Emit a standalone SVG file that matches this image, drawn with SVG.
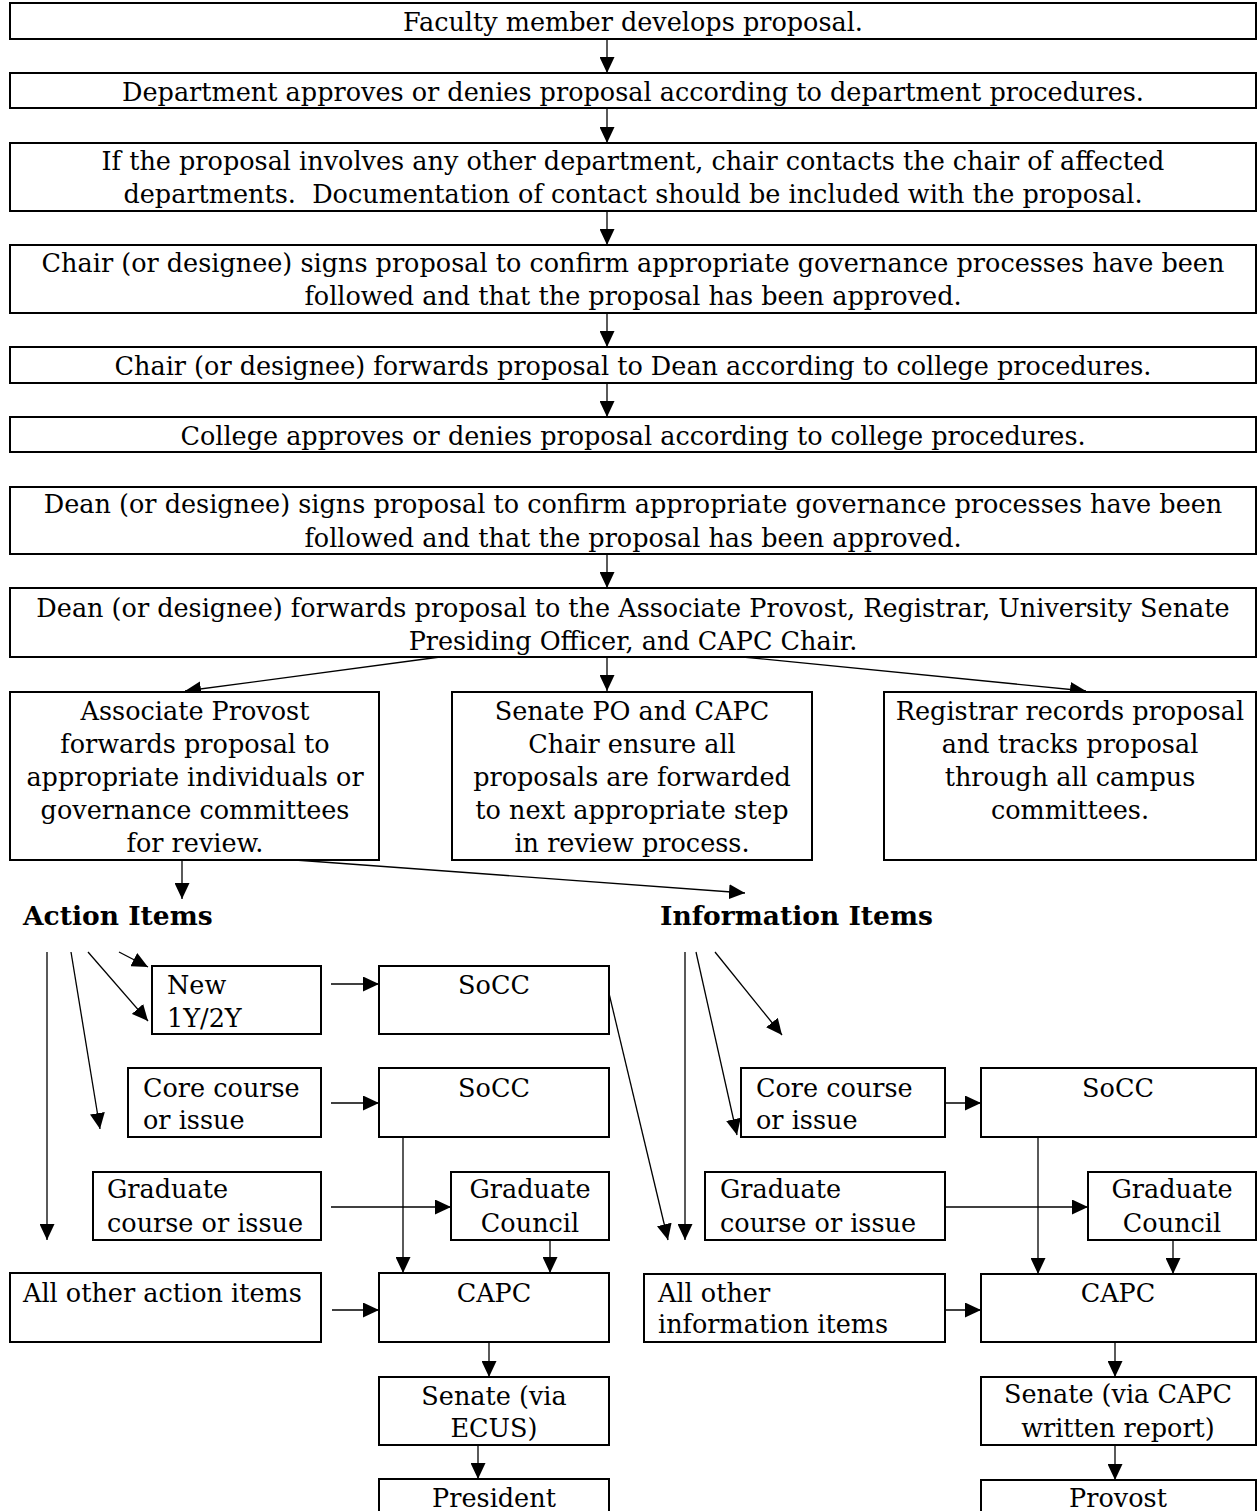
<svg xmlns="http://www.w3.org/2000/svg" width="1257" height="1511" viewBox="0 0 1257 1511">
<style>
.box{fill:#fff;stroke:#000;stroke-width:2}
text{font-family:"DejaVu Serif","Liberation Serif",serif;font-size:25.5px;fill:#000}
.c{text-anchor:middle}
.h{font-weight:bold;font-size:26.5px}
.ln{stroke:#000;stroke-width:1.3;fill:none}
.ar{marker-end:url(#ah)}
</style>
<defs>
<marker id="ah" markerUnits="userSpaceOnUse" markerWidth="16" markerHeight="15" refX="16" refY="7.5" orient="auto" viewBox="0 0 16 15">
<path d="M0,0 L16,7.5 L0,15 z" fill="#000"/>
</marker>
</defs>
<rect width="1257" height="1511" fill="#fff"/>
<g id="connectors">
<line class="ln ar" x1="607" y1="39" x2="607" y2="73"/>
<line class="ln ar" x1="607" y1="108" x2="607" y2="143"/>
<line class="ln ar" x1="607" y1="211" x2="607" y2="245"/>
<line class="ln ar" x1="607" y1="313" x2="607" y2="347"/>
<line class="ln ar" x1="607" y1="383" x2="607" y2="417"/>
<line class="ln ar" x1="607" y1="554" x2="607" y2="588"/>
<line class="ln ar" x1="440" y1="657" x2="185" y2="691"/>
<line class="ln ar" x1="607" y1="657" x2="607" y2="691"/>
<line class="ln ar" x1="743" y1="657" x2="1086" y2="691"/>
<line class="ln ar" x1="182" y1="860" x2="182" y2="899"/>
<line class="ln ar" x1="295" y1="860" x2="745" y2="893"/>
<line class="ln ar" x1="47" y1="952" x2="47" y2="1240"/>
<line class="ln ar" x1="71" y1="952" x2="100" y2="1129"/>
<line class="ln ar" x1="88" y1="952" x2="148" y2="1021"/>
<line class="ln ar" x1="119" y1="952" x2="148" y2="967"/>
<line class="ln ar" x1="331" y1="984" x2="379" y2="984"/>
<line class="ln ar" x1="607" y1="985" x2="668" y2="1240"/>
<line class="ln ar" x1="331" y1="1103" x2="379" y2="1103"/>
<line class="ln ar" x1="403" y1="1137" x2="403" y2="1273"/>
<line class="ln ar" x1="331" y1="1207" x2="451" y2="1207"/>
<line class="ln ar" x1="550" y1="1240" x2="550" y2="1273"/>
<line class="ln ar" x1="332" y1="1310" x2="379" y2="1310"/>
<line class="ln ar" x1="489" y1="1342" x2="489" y2="1377"/>
<line class="ln ar" x1="478" y1="1445" x2="478" y2="1479"/>
<line class="ln ar" x1="685" y1="952" x2="685" y2="1240"/>
<line class="ln ar" x1="696" y1="952" x2="737" y2="1135"/>
<line class="ln ar" x1="715" y1="952" x2="782" y2="1035"/>
<line class="ln ar" x1="945" y1="1103" x2="981" y2="1103"/>
<line class="ln ar" x1="1038" y1="1137" x2="1038" y2="1274"/>
<line class="ln ar" x1="945" y1="1207" x2="1088" y2="1207"/>
<line class="ln ar" x1="1173" y1="1240" x2="1173" y2="1274"/>
<line class="ln ar" x1="945" y1="1310" x2="981" y2="1310"/>
<line class="ln ar" x1="1115" y1="1342" x2="1115" y2="1377"/>
<line class="ln ar" x1="1115" y1="1445" x2="1115" y2="1480"/>
</g>
<g id="n1"><rect class="box" x="10" y="3" width="1246" height="36"/><text class="c" x="633" y="31">Faculty member develops proposal.</text></g>
<g id="n2"><rect class="box" x="10" y="73" width="1246" height="35"/><text class="c" x="633" y="101">Department approves or denies proposal according to department procedures.</text></g>
<g id="n3"><rect class="box" x="10" y="143" width="1246" height="68"/><text class="c" x="633" y="170">If the proposal involves any other department, chair contacts the chair of affected</text><text class="c" x="633" y="203" xml:space="preserve">departments.  Documentation of contact should be included with the proposal.</text></g>
<g id="n4"><rect class="box" x="10" y="245" width="1246" height="68"/><text class="c" x="633" y="272">Chair (or designee) signs proposal to confirm appropriate governance processes have been</text><text class="c" x="633" y="305">followed and that the proposal has been approved.</text></g>
<g id="n5"><rect class="box" x="10" y="347" width="1246" height="36"/><text class="c" x="633" y="375">Chair (or designee) forwards proposal to Dean according to college procedures.</text></g>
<g id="n6"><rect class="box" x="10" y="417" width="1246" height="35"/><text class="c" x="633" y="445">College approves or denies proposal according to college procedures.</text></g>
<g id="n7"><rect class="box" x="10" y="487" width="1246" height="67"/><text class="c" x="633" y="513">Dean (or designee) signs proposal to confirm appropriate governance processes have been</text><text class="c" x="633" y="547">followed and that the proposal has been approved.</text></g>
<g id="n8"><rect class="box" x="10" y="588" width="1246" height="69"/><text class="c" x="633" y="617">Dean (or designee) forwards proposal to the Associate Provost, Registrar, University Senate</text><text class="c" x="633" y="650">Presiding Officer, and CAPC Chair.</text></g>
<g id="n9"><rect class="box" x="10" y="692" width="369" height="168"/><text class="c" x="195" y="720">Associate Provost</text><text class="c" x="195" y="753">forwards proposal to</text><text class="c" x="195" y="786">appropriate individuals or</text><text class="c" x="195" y="819">governance committees</text><text class="c" x="195" y="852">for review.</text></g>
<g id="n10"><rect class="box" x="452" y="692" width="360" height="168"/><text class="c" x="632" y="720">Senate PO and CAPC</text><text class="c" x="632" y="753">Chair ensure all</text><text class="c" x="632" y="786">proposals are forwarded</text><text class="c" x="632" y="819">to next appropriate step</text><text class="c" x="632" y="852">in review process.</text></g>
<g id="n11"><rect class="box" x="884" y="692" width="372" height="168"/><text class="c" x="1070" y="720">Registrar records proposal</text><text class="c" x="1070" y="753">and tracks proposal</text><text class="c" x="1070" y="786">through all campus</text><text class="c" x="1070" y="819">committees.</text></g>
<g id="h1"><text class="h" x="23" y="925">Action Items</text></g>
<g id="h2"><text class="h" x="660" y="925">Information Items</text></g>
<g id="a1"><rect class="box" x="152" y="966" width="169" height="68"/><text x="167" y="994">New</text><text x="167" y="1027">1Y/2Y</text></g>
<g id="a2"><rect class="box" x="379" y="966" width="230" height="68"/><text class="c" x="494" y="994">SoCC</text></g>
<g id="a3"><rect class="box" x="128" y="1068" width="193" height="69"/><text x="143" y="1097">Core course</text><text x="143" y="1129">or issue</text></g>
<g id="a4"><rect class="box" x="379" y="1068" width="230" height="69"/><text class="c" x="494" y="1097">SoCC</text></g>
<g id="a5"><rect class="box" x="93" y="1172" width="228" height="68"/><text x="107" y="1198">Graduate</text><text x="107" y="1232">course or issue</text></g>
<g id="a6"><rect class="box" x="451" y="1172" width="158" height="68"/><text class="c" x="530" y="1198">Graduate</text><text class="c" x="530" y="1232">Council</text></g>
<g id="a7"><rect class="box" x="10" y="1273" width="311" height="69"/><text x="23" y="1302">All other action items</text></g>
<g id="a8"><rect class="box" x="379" y="1273" width="230" height="69"/><text class="c" x="494" y="1302">CAPC</text></g>
<g id="a9"><rect class="box" x="379" y="1377" width="230" height="68"/><text class="c" x="494" y="1405">Senate (via</text><text class="c" x="494" y="1437">ECUS)</text></g>
<g id="a10"><rect class="box" x="379" y="1479" width="230" height="69"/><text class="c" x="494" y="1507">President</text></g>
<g id="i1"><rect class="box" x="741" y="1068" width="204" height="69"/><text x="756" y="1097">Core course</text><text x="756" y="1129">or issue</text></g>
<g id="i2"><rect class="box" x="981" y="1068" width="275" height="69"/><text class="c" x="1118" y="1097">SoCC</text></g>
<g id="i3"><rect class="box" x="705" y="1172" width="240" height="68"/><text x="720" y="1198">Graduate</text><text x="720" y="1232">course or issue</text></g>
<g id="i4"><rect class="box" x="1088" y="1172" width="168" height="68"/><text class="c" x="1172" y="1198">Graduate</text><text class="c" x="1172" y="1232">Council</text></g>
<g id="i5"><rect class="box" x="644" y="1274" width="301" height="68"/><text x="658" y="1302">All other</text><text x="658" y="1333">information items</text></g>
<g id="i6"><rect class="box" x="981" y="1274" width="275" height="68"/><text class="c" x="1118" y="1302">CAPC</text></g>
<g id="i7"><rect class="box" x="981" y="1377" width="275" height="68"/><text class="c" x="1118" y="1403">Senate (via CAPC</text><text class="c" x="1118" y="1437">written report)</text></g>
<g id="i8"><rect class="box" x="981" y="1480" width="275" height="69"/><text class="c" x="1118" y="1507">Provost</text></g>
</svg>
